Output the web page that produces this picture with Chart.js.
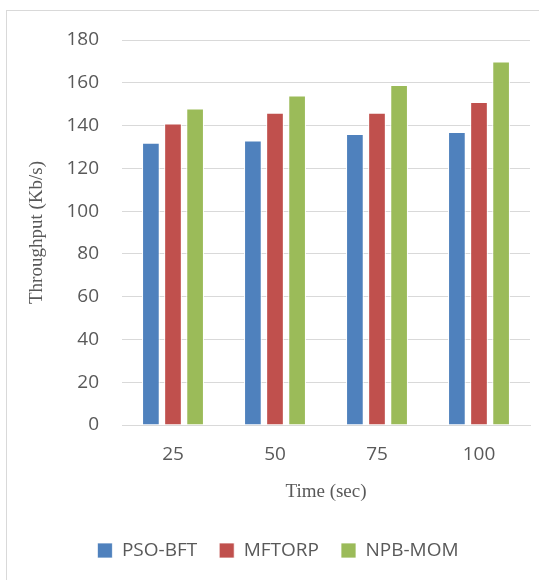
<!DOCTYPE html>
<html><head><meta charset="utf-8">
<script src="https://cdn.jsdelivr.net/npm/chart.js@4"></script>
<style>
html,body{margin:0;padding:0;background:#fff;}
#wrap{position:relative;width:539px;height:580px;}
#frame{position:absolute;left:6px;top:10px;width:540px;height:580px;border:1px solid #d9d9d9;box-sizing:border-box;}
canvas{position:absolute;left:0;top:0;}
</style></head><body>
<div id="wrap"><div id="frame"></div><canvas id="c" width="539" height="580"></canvas></div>
<script>
const categories = ["25", "50", "75", "100"];
const psoBft = [132, 133, 136, 137];
const mftorp = [141, 146, 146, 151];
const npbMom = [148, 154, 159, 170];
const yTicks = [0, 20, 40, 60, 80, 100, 120, 140, 160, 180];

const tickFont = {family: "'Open Sans', 'Liberation Sans', sans-serif", size: 19};
const xTickFont = {family: "'Open Sans', 'Liberation Sans', sans-serif", size: 19, lineHeight: 1};
const serifFont = {family: "'Liberation Serif', 'Times New Roman', serif", size: 19};
const xTitleFont = {family: "'Liberation Serif', 'Times New Roman', serif", size: 19, lineHeight: 1};
const ds = (label, data, color) => ({label, data, backgroundColor: color, borderColor: '#ffffff', borderWidth: {left:1,right:1,top:1,bottom:0}, categoryPercentage: 0.65, barPercentage: 0.8});

new Chart(document.getElementById('c'), {
  type: 'bar',
  data: {
    labels: categories,
    datasets: [
      ds('PSO-BFT', psoBft, '#4f81bd'),
      ds('MFTORP', mftorp, '#c0504d'),
      ds('NPB-MOM', npbMom, '#9bbb59')
    ]
  },
  options: {
    responsive: false,
    animation: false,
    layout: {padding: {left: 26, right: 9, top: 40, bottom: 10}},
    plugins: {
      tooltip: {enabled: false},
      legend: {
        position: 'bottom',
        labels: {color: '#595959', font: tickFont, boxWidth: 15, boxHeight: 15, padding: 22},
      }
    },
    scales: {
      x: {
        afterFit: (axis) => { axis.height = 94; },
        grid: {display: false, drawTicks: false},
        border: {display: true, color: '#d9d9d9', width: 1},
        ticks: {color: '#595959', font: xTickFont, padding: 20},
        title: {display: true, text: 'Time (sec)', color: '#595959', font: xTitleFont, padding: {top: 0, bottom: 17}}
      },
      y: {
        min: 0, max: 180,
        afterBuildTicks: (axis) => { axis.ticks = yTicks.map(v => ({value: v})); },
        afterFit: (axis) => { axis.width = 96; },
        grid: {color: '#d9d9d9', drawTicks: false, lineWidth: 1},
        border: {display: false},
        ticks: {color: '#595959', font: tickFont, padding: 23},
        title: {display: true, text: 'Throughput (Kb/s)', color: '#595959', font: serifFont, padding: {top: 0, bottom: 0}}
      }
    }
  }
});
</script>
</body></html>
